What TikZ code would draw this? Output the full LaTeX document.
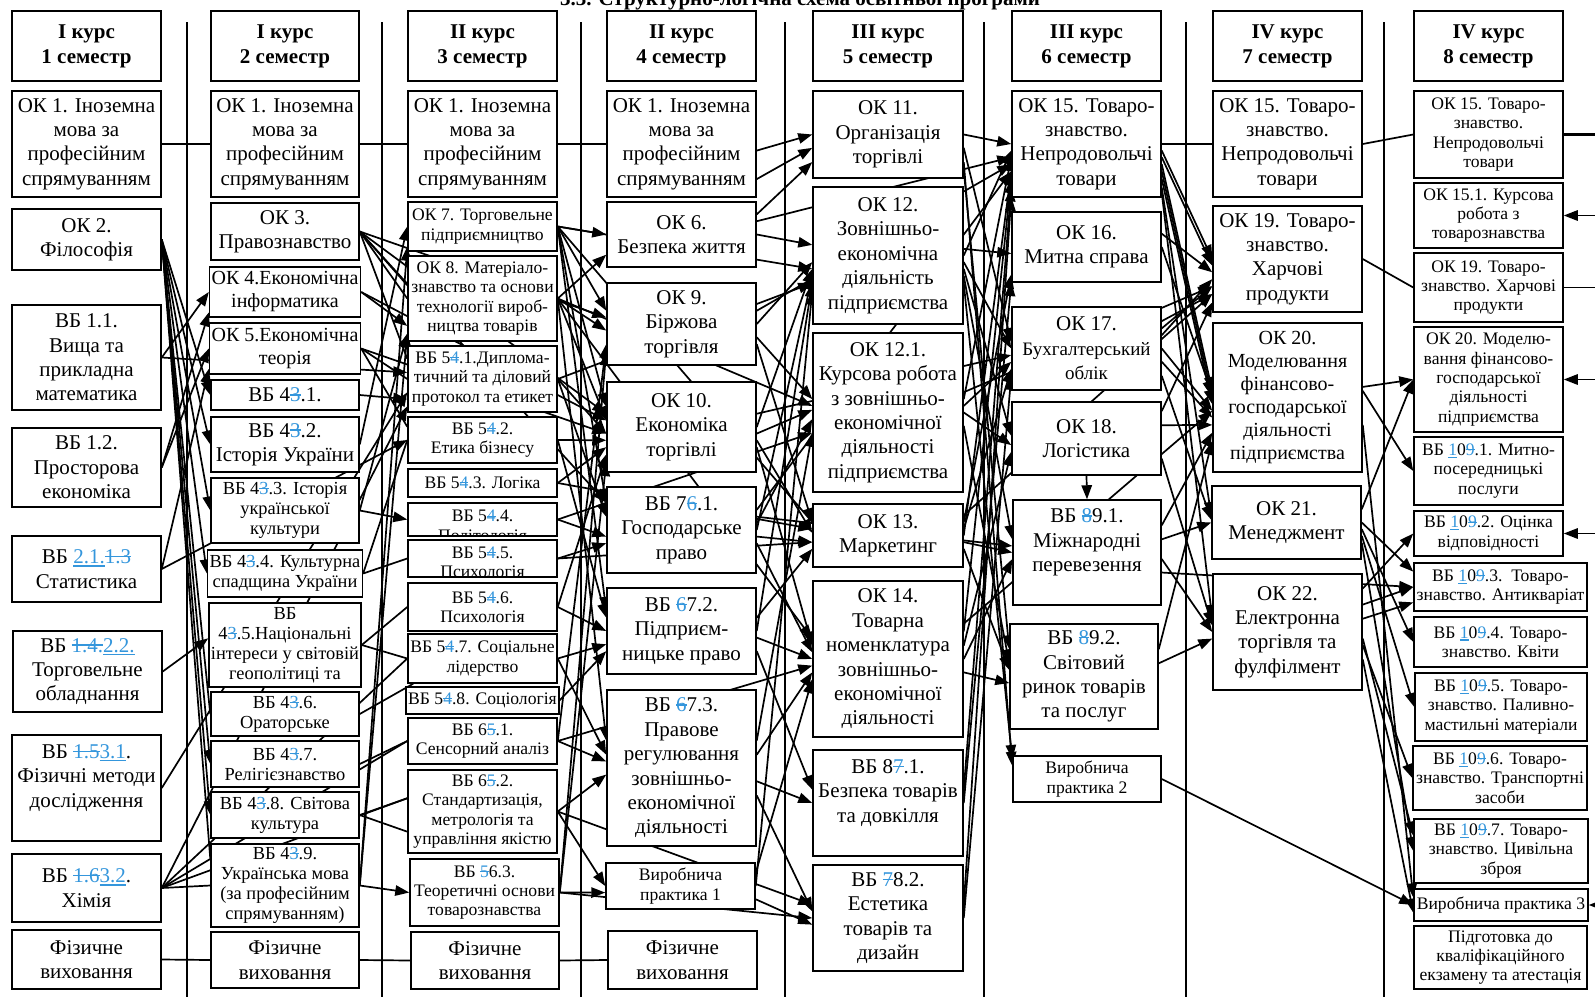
\documentclass[tikz,border=0pt]{standalone}
\usepackage{fontspec}
\setmainfont{Liberation Serif}
\usetikzlibrary{arrows.meta,calc}
\definecolor{blu}{RGB}{52,150,220}
\newsavebox\tmpbx
\newcommand\dl[1]{{\color{blu}\sbox\tmpbx{#1}\rlap{\rule[0.3em]{\wd\tmpbx}{0.06em}}\usebox\tmpbx}}
\newcommand\ins[1]{{\color{blu}\sbox\tmpbx{#1}\rlap{\rule[-0.14em]{\wd\tmpbx}{0.06em}}\usebox\tmpbx}}
\newcommand\mfont{\fontsize{10.5}{12.2}\selectfont}
\newcommand\nfont{\fontsize{10}{11.5}\selectfont}
\newcommand\sfont{\fontsize{8.8}{9.7}\selectfont}
\newcommand\tfont{\fontsize{9.2}{10}\selectfont}
\newcommand\bfontx{\fontsize{9.5}{11}\selectfont}
\newcommand\hfont{\bfseries\fontsize{10.5}{12.4}\selectfont}
\pgfdeclarelayer{bg}\pgfsetlayers{bg,main}
\tikzset{
 box/.style={draw, line width=0.75pt, fill=white, align=center, inner sep=1pt, font=\mfont},
 ln/.style={line width=0.85pt},
 arr/.style={line width=0.85pt, -{Triangle[length=7pt,width=5.2pt]}},
 sepl/.style={line width=0.55pt},
}
\newcommand\bx[7][]{%
  \pgfmathsetmacro\bxw{(#5-#3)*0.5}%
  \pgfmathsetmacro\bxh{(#6-#4)*0.5}%
  \node[box,minimum width=\bxw pt,minimum height=\bxh pt,#1] (#2) at ({(#3+#5)/2},{(#4+#6)/2}) {#7};}
\newcommand\cA[2]{\draw[arr] (#1) -- (#2);}
\newcommand\cL[2]{\draw[ln] (#1) -- (#2);}
\begin{document}
\begin{tikzpicture}[x=0.5pt,y=-0.5pt]
\useasboundingbox (0,0) rectangle (1595,996);
\node[font=\hfont,anchor=base] (title) at (800,5) {3.3. Структурно-логічна схема освітньої програми};
% headers
\bx[font=\hfont]{hd1}{12}{11}{161}{81}{І курс\\1 семестр}
\bx[font=\hfont]{hd2}{211}{11}{359}{81}{І курс\\2 семестр}
\bx[font=\hfont]{hd3}{408}{11}{557}{81}{ІІ курс\\3 семестр}
\bx[font=\hfont]{hd4}{607}{11}{756}{81}{ІІ курс\\4 семестр}
\bx[font=\hfont]{hd5}{813}{11}{963}{81}{ІІІ курс\\5 семестр}
\bx[font=\hfont]{hd6}{1012}{11}{1161}{81}{ІІІ курс\\6 семестр}
\bx[font=\hfont]{hd7}{1213}{11}{1362}{81}{IV курс\\7 семестр}
\bx[font=\hfont]{hd8}{1414}{11}{1563}{81}{IV курс\\8 семестр}
% column 1
\bx{a1}{12}{91}{161}{197}{ОК 1. Іноземна\\мова за\\професійним\\спрямуванням}
\bx{a2}{12}{209}{161}{270}{ОК 2.\\Філософія}
\bx{a3}{12}{305}{161}{410}{ВБ 1.1.\\Вища та\\прикладна\\математика}
\bx{a4}{12}{428}{161}{507}{ВБ 1.2.\\Просторова\\економіка}
\bx{a5}{12}{536}{161}{602}{ВБ \ins{2.1.}\dl{1.3}\\Статистика}
\bx{a6}{13}{631}{162}{712}{ВБ \dl{1.4.}\ins{2.2.}\\Торговельне\\обладнання}
\bx{a7}{12}{735}{161}{841}{ВБ \dl{1.5}\ins{3.1}.\\Фізичні методи\\дослідження\\\mbox{}}
\bx{a8}{12}{854}{161}{922}{ВБ \dl{1.6}\ins{3.2}.\\Хімія}
\bx{a9}{12}{930}{161}{989}{Фізичне\\виховання}
% column 2
\bx{b1}{211}{91}{359}{197}{ОК 1. Іноземна\\мова за\\професійним\\спрямуванням}
\bx{b2}{211}{203}{359}{260}{ОК 3.\\Правознавство}
\bx[font=\nfont]{b3}{211}{267}{359}{317}{ОК 4.Економічна\\інформатика}
\bx[font=\nfont]{b4}{211}{323}{359}{374}{ОК 5.Економічна\\теорія}
\bx{b5}{211}{380}{359}{410}{ВБ 4\dl{3}.1.}
\bx{b6}{211}{417}{359}{472}{ВБ 4\dl{3}.2.\\Історія України}
\bx[font=\tfont]{b7}{211}{478}{359}{543}{ВБ 4\dl{3}.3. Історія\\української\\культури}
\bx[font=\tfont]{b8}{211}{550}{359}{597}{ВБ 4\dl{3}.4. Культурна\\спадщина України}
\bx[font=\tfont]{b9}{211}{603}{359}{687}{ВБ\\4\dl{3}.5.Національні\\інтереси у світовій\\геополітиці та}
\bx[font=\tfont]{b10}{211}{692}{359}{736}{ВБ 4\dl{3}.6.\\Ораторське}
\bx[font=\tfont]{b11}{211}{741}{359}{787}{ВБ 4\dl{3}.7.\\Релігієзнавство}
\bx[font=\tfont]{b12}{211}{792}{359}{838}{ВБ 4\dl{3}.8. Світова\\культура}
\bx[font=\tfont]{b13}{211}{844}{359}{927}{ВБ 4\dl{3}.9.\\Українська мова\\(за професійним\\спрямуванням)}
\bx{b14}{211}{932}{359}{988}{Фізичне\\виховання}
% column 3
\bx{c1}{408}{91}{557}{197}{ОК 1. Іноземна\\мова за\\професійним\\спрямуванням}
\bx[font=\sfont]{c2}{408}{202}{557}{251}{ОК 7. Торговельне\\підприємництво}
\bx[font=\sfont]{c3}{408}{256}{557}{341}{ОК 8. Матеріало-\\знавство та основи\\технології вироб-\\ництва товарів}
\bx[font=\sfont]{c4}{408}{346}{557}{412}{ВБ 5\dl{4}.1.Диплома-\\тичний та діловий\\протокол та етикет}
\bx[font=\sfont]{c5}{408}{417}{557}{463}{ВБ 5\dl{4}.2.\\Етика бізнесу}
\bx[font=\sfont]{c6}{408}{469}{557}{497}{ВБ 5\dl{4}.3. Логіка}
\bx[font=\sfont]{c7}{408}{503}{557}{536}{}
\bx[font=\sfont]{c8}{408}{540}{557}{577}{}
\begin{scope}
\clip ([shift={(1pt,-0.6pt)}]c7.north west) rectangle ([shift={(-1pt,0.6pt)}]c7.south east);
\node[font=\sfont,align=center,anchor=north,inner sep=1pt] (c7t) at ([yshift=-2.8pt]c7.north) {ВБ 5\dl{4}.4.\\Політологія};
\end{scope}
\begin{scope}
\clip ([shift={(1pt,-0.6pt)}]c8.north west) rectangle ([shift={(-1pt,0.6pt)}]c8.south east);
\node[font=\sfont,align=center,anchor=north,inner sep=1pt] (c8t) at ([yshift=-2.5pt]c8.north) {ВБ 5\dl{4}.5.\\Психологія};
\end{scope}
\bx[font=\sfont]{c9}{408}{583}{557}{631}{ВБ 5\dl{4}.6.\\Психологія}
\bx[font=\sfont]{c10}{408}{634}{557}{683}{ВБ 5\dl{4}.7. Соціальне\\лідерство}
\bx[font=\sfont]{c11}{408}{687}{557}{714}{ВБ 5\dl{4}.8. Соціологія}
\bx[font=\sfont]{c12}{408}{718}{557}{764}{ВБ 6\dl{5}.1.\\Сенсорний аналіз}
\bx[font=\sfont]{c13}{408}{770}{557}{853}{ВБ 6\dl{5}.2.\\Стандартизація,\\метрологія та\\управління якістю}
\bx[font=\sfont]{c14}{410}{859}{559}{926}{ВБ \dl{5}6.3.\\Теоретичні основи\\товарознавства}
\bx{c15}{411}{932}{559}{989}{Фізичне\\виховання}
% column 4
\bx{d1}{607}{91}{756}{197}{ОК 1. Іноземна\\мова за\\професійним\\спрямуванням}
\bx{d2}{607}{202}{756}{267}{ОК 6.\\Безпека життя}
\bx{d3}{607}{283}{756}{365}{ОК 9.\\Біржова\\торгівля}
\bx{d4}{607}{382}{756}{472}{ОК 10.\\Економіка\\торгівлі}
\bx{d5}{607}{487}{756}{573}{ВБ 7\dl{6}.1.\\Господарське\\право}
\bx{d6}{607}{588}{756}{674}{ВБ \dl{6}7.2.\\Підприєм-\\ницьке право}
\bx{d7}{607}{690}{756}{846}{ВБ \dl{6}7.3.\\Правове\\регулювання\\зовнішньо-\\економічної\\діяльності}
\bx[font=\sfont]{d8}{606}{863}{755}{909}{Виробнича\\практика 1}
\bx{d9}{608}{931}{757}{989}{Фізичне\\виховання}
% column 5
\bx{e1}{813}{91}{963}{178}{ОК 11.\\Організація\\торгівлі}
\bx{e2}{813}{187}{963}{324}{ОК 12.\\Зовнішньо-\\економічна\\діяльність\\підприємства}
\bx{e3}{813}{333}{963}{492}{ОК 12.1.\\Курсова робота\\з зовнішньо-\\економічної\\діяльності\\підприємства}
\bx{e4}{813}{504}{963}{567}{ОК 13.\\Маркетинг}
\bx{e5}{813}{581}{963}{737}{ОК 14.\\Товарна\\номенклатура\\зовнішньо-\\економічної\\діяльності}
\bx{e6}{813}{750}{963}{856}{ВБ 8\dl{7}.1.\\Безпека товарів\\та довкілля\\\mbox{}}
\bx{e7}{813}{865}{963}{971}{ВБ \dl{7}8.2.\\Естетика\\товарів та\\дизайн}
% column 6
\bx{f1}{1012}{91}{1161}{197}{ОК 15. Товаро-\\знавство.\\Непродовольчі\\товари}
\bx{f2}{1012}{212}{1161}{282}{ОК 16.\\Митна справа}
\bx{f3}{1012}{307}{1161}{390}{ОК 17.\\{\bfontx Бухгалтерський}\\{\bfontx облік}}
\bx{f4}{1012}{402}{1161}{475}{ОК 18.\\Логістика}
\bx{f5}{1013}{500}{1161}{605}{ВБ \dl{8}9.1.\\Міжнародні\\перевезення\\\mbox{}}
\bx{f6}{1010}{624}{1158}{729}{ВБ \dl{8}9.2.\\Світовий\\ринок товарів\\та послуг}
\bx[font=\sfont]{f7}{1013}{756}{1161}{802}{Виробнича\\практика 2}
% column 7
\bx{g1}{1213}{91}{1362}{197}{ОК 15. Товаро-\\знавство.\\Непродовольчі\\товари}
\bx{g2}{1213}{206}{1362}{312}{ОК 19. Товаро-\\знавство.\\Харчові\\продукти}
\bx[font=\nfont]{g3}{1213}{323}{1362}{472}{ОК 20.\\Моделювання\\фінансово-\\господарської\\діяльності\\підприємства}
\bx{g4}{1212}{486}{1361}{559}{ОК 21.\\Менеджмент}
\bx{g5}{1213}{574}{1362}{690}{ОК 22.\\Електронна\\торгівля та\\фулфілмент}
% column 8
\bx[font=\sfont]{h1}{1414}{91}{1563}{178}{ОК 15. Товаро-\\знавство.\\Непродовольчі\\товари}
\bx[font=\sfont]{h2}{1414}{183}{1563}{248}{ОК 15.1. Курсова\\робота з\\товарознавства}
\bx[font=\sfont]{h3}{1414}{253}{1563}{322}{ОК 19. Товаро-\\знавство. Харчові\\продукти}
\bx[font=\sfont]{h4}{1414}{327}{1563}{432}{ОК 20. Моделю-\\вання фінансово-\\господарської\\діяльності\\підприємства}
\bx[font=\sfont]{h5}{1414}{437}{1563}{505}{ВБ \ins{1}0\dl{9}.1. Митно-\\посередницькі\\послуги}
\bx[font=\sfont]{h6}{1414}{511}{1563}{556}{ВБ \ins{1}0\dl{9}.2. Оцінка\\відповідності}
\bx[font=\sfont]{h7}{1414}{563}{1587}{611}{ВБ \ins{1}0\dl{9}.3.\ \ Товаро-\\знавство. Антикваріат}
\bx[font=\sfont]{h8}{1414}{617}{1587}{667}{ВБ \ins{1}0\dl{9}.4. Товаро-\\знавство. Квіти}
\bx[font=\sfont]{h9}{1415}{673}{1587}{741}{ВБ \ins{1}0\dl{9}.5. Товаро-\\знавство. Паливно-\\мастильні матеріали}
\bx[font=\sfont]{h10}{1413}{746}{1587}{810}{ВБ \ins{1}0\dl{9}.6. Товаро-\\знавство. Транспортні\\засоби}
\bx[font=\sfont]{h11}{1414}{819}{1588}{883}{ВБ \ins{1}0\dl{9}.7. Товаро-\\знавство. Цивільна\\зброя}
\bx[font=\sfont]{h12}{1414}{889}{1588}{921}{Виробнича практика 3}
\bx[font=\sfont]{h13}{1414}{926}{1587}{989}{Підготовка до\\кваліфікаційного\\екзамену та атестація}
% free ends at the right edge
\coordinate (r1) at (1600,134.5);
\coordinate (r2) at (1600,215.5);
\coordinate (r3) at (1600,287.5);
\coordinate (r4) at (1600,379.5);
\coordinate (r5) at (1600,533.5);
\coordinate (r6) at (1600,905);
\begin{pgfonlayer}{bg}
\fill[white] (0,0) rectangle (1595,996);
\foreach \sx in {187,382,581,785,984,1186,1384} {\draw[sepl] (\sx,22) -- (\sx,1000);}
% chains
\cL{a1.east}{b1.west} \cL{b1.east}{c1.west} \cL{c1.east}{d1.west}
\cL{a9.east}{b14.west} \cL{b14.east}{c15.west} \cL{c15.east}{d9.west}
\cL{f1.east}{g1.west} \cL{g1.east}{h1.west} \cL{g2.east}{h3.west}
% col1 -> col2
\cA{a2.east}{b5.west} \cA{a2.east}{b6.west} \cA{a2.east}{b7.west}
\cA{a2.east}{b8.west} \cA{a2.east}{b11.west} \cA{a2.east}{b12.west}
\cL{a2.east}{b10.west} \cL{a2.east}{b13.160}
\cA{a3.east}{b3.west} \cA{a3.east}{c4.175}
\cA{a4.east}{b3.195} \cA{a4.east}{b4.west}
\cA{a5.east}{b4.195} \cA{a5.east}{c5.west}
\cA{a6.east}{b9.175}
\cA{a7.east}{c4.190}
\cL{a8.east}{b13.west} \cL{a8.east}{c13.170} \cL{a8.east}{c12.west}
\cL{a8.east}{c10.west} \cA{a8.east}{c4.200}
% col2 -> col3
\cL{b2.east}{c3.170} \cL{b2.east}{c3.west} \cL{b2.east}{c4.165}
\cA{b2.east}{d3.175} \cA{b2.east}{d4.170} \cA{b2.east}{d5.160}
\cA{b3.east}{c3.200} \cA{b3.east}{d4.175}
\cL{b4.east}{c4.west} \cL{b4.east}{c5.170} \cA{b4.east}{d4.185}
\cA{b5.east}{c4.195}
\cA{b6.east}{c2.west}
\cA{b7.east}{c7.west} \cA{b7.east}{c3.205}
\cL{b8.east}{c8.west} \cL{b8.east}{c5.west}
\cL{b9.east}{c9.west} \cL{b9.east}{c10.west}
\cL{b10.east}{c10.200}
\cL{b11.east}{c12.west}
\cL{b12.east}{c13.170} \cL{b12.east}{c13.195}
\cA{b13.east}{c14.west} \cA{b13.east}{c2.195} \cA{b13.east}{c3.205}
% col3 -> col4/5
\cA{c2.east}{d2.west} \cA{c2.east}{d3.170} \cA{c2.east}{d4.165}
\cA{c2.east}{d5.160} \cA{c2.east}{d6.165} \cA{c2.east}{e2.190} \cL{c2.east}{e4.170}
\cA{c3.east}{d2.195} \cA{c3.east}{d3.185} \cA{c3.east}{d4.175}
\cA{c3.east}{d7.160} \cA{c3.east}{e3.175} \cA{c3.east}{e5.165}
\cA{c4.east}{d4.185} \cA{c4.east}{d5.170} \cA{c4.east}{e2.200}
\cA{c5.east}{d4.190} \cA{c5.east}{d6.170}
\cA{c6.east}{d4.195} \cA{c6.east}{e4.175}
\cA{c7.east}{d5.185} \cA{c7.east}{e3.195}
\cA{c8.east}{d5.190} \cA{c8.east}{e4.185}
\cA{c9.east}{d6.180} \cA{c9.east}{d4.200}
\cA{c10.east}{d6.190} \cA{c10.east}{d7.170}
\cA{c11.east}{d6.195}
\cA{c12.east}{d7.175} \cA{c12.east}{e5.185} \cA{c12.east}{d3.195}
\cA{c13.east}{d7.185} \cA{c13.east}{d8.west} \cA{c13.east}{e7.170}
\cA{c14.east}{d8.185} \cA{c14.east}{d4.205} \cA{c14.east}{d3.200} \cA{c14.east}{e7.west}
% col4 -> col5/6
\cA{d1.-5}{e1.west} \cA{d1.-25}{e1.190}
\cA{d2.east}{e2.172} \cA{d2.15}{e1.200} \cA{d2.10}{f1.190}
\cA{d3.east}{e2.185} \cA{d3.-10}{e3.170} \cA{d3.-15}{e4.170} \cA{d3.10}{f1.195}
\cA{d4.east}{e2.190} \cA{d4.-5}{e3.178} \cA{d4.-10}{e4.178} \cA{d4.-15}{e5.170} \cA{d4.10}{f3.185}
\cA{d5.east}{e2.195} \cA{d5.5}{e3.185} \cA{d5.-5}{e4.185} \cA{d5.-10}{e5.175}
\cA{d5.10}{f5.175} \cA{d5.15}{f1.200}
\cA{d6.east}{e2.200} \cA{d6.10}{e4.190} \cA{d6.-5}{e5.180} \cA{d6.-15}{e6.170}
\cA{d7.20}{e3.195} \cA{d7.10}{e5.190} \cA{d7.-10}{e6.west} \cA{d7.-20}{e7.175}
\cA{d8.east}{e2.205} \cA{d8.-10}{e7.185} \cA{d8.10}{e5.195}
% col5 -> col6/7
\cA{e1.east}{f1.180} \cA{e1.-10}{f3.175} \cA{e1.-20}{f7.170} \cA{e1.-25}{f6.160}
\cA{e2.east}{f1.185} \cA{e2.5}{f2.185} \cA{e2.-5}{f3.180} \cA{e2.-10}{f4.178}
\cA{e2.-15}{f5.170} \cA{e2.-20}{f7.165}
\cA{e3.10}{f1.190} \cA{e3.5}{f3.190} \cA{e3.east}{f4.185} \cA{e3.-10}{f6.170}
\cA{e4.east}{f1.200} \cA{e4.10}{f2.200} \cA{e4.5}{f3.195} \cA{e4.-5}{f5.180} \cA{e4.-10}{f6.175}
\cA{e5.20}{f1.205} \cA{e5.10}{f4.190} \cA{e5.east}{f5.185} \cA{e5.-10}{f6.185}
\cA{e6.10}{f1.210} \cA{e6.east}{f2.205}
\cA{e7.10}{f1.215} \cA{e7.east}{f3.200}
\cA{e3.15}{g2.200} \cA{e5.25}{g3.190} \cA{e4.15}{g2.205}
% col6 -> col7
\cA{f1.-5}{g2.180} \cA{f1.-10}{g2.185} \cA{f1.-15}{g3.175} \cA{f1.-20}{g3.180}
\cA{f1.-25}{g3.185} \cA{f1.-30}{g4.175} \cA{f1.-33}{g5.170}
\cA{f2.east}{g3.178} \cA{f2.10}{g2.190}
\cA{f3.10}{g2.195} \cA{f3.15}{g2.200} \cA{f3.20}{g2.205} \cA{f3.east}{g3.190}
\cA{f3.-10}{g3.195} \cA{f3.-20}{g4.178}
\cA{f4.10}{g3.200} \cA{f4.20}{g2.210} \cA{f4.south}{f5.north} \cA{f4.-15}{g5.175}
\cA{f5.10}{g4.180} \cA{f5.-5}{g5.180} \cA{f5.20}{g3.205} \cA{f5.-15}{h7.west}
\cA{f6.20}{g3.210} \cA{f6.10}{g5.185}
\cA{f7.east}{h12.west}
% col7 -> col8
\cA{g3.8}{h4.west} \cA{g3.5}{h5.west} \cA{g3.-20}{h12.175}
\cA{g4.10}{h4.west} \cA{g4.east}{h7.170} \cA{g4.-5}{h8.west} \cA{g4.-10}{h9.west} \cA{g4.-15}{h11.west}
\cA{g5.30}{h6.west} \cA{g5.20}{h7.west} \cA{g5.10}{h7.190} \cA{g5.-10}{h10.west}
\cA{g5.-20}{h12.185} \cA{g5.-5}{h11.170}
% from outside the picture
\draw[line width=1.6pt] (r1) -- (h1.east);
\cA{r2}{h2.east} \cL{r3}{h3.east} \cA{r4}{h4.east} \cA{r5}{h6.east} \cA{r6}{h12.east}
\end{pgfonlayer}
\end{tikzpicture}
\end{document}
